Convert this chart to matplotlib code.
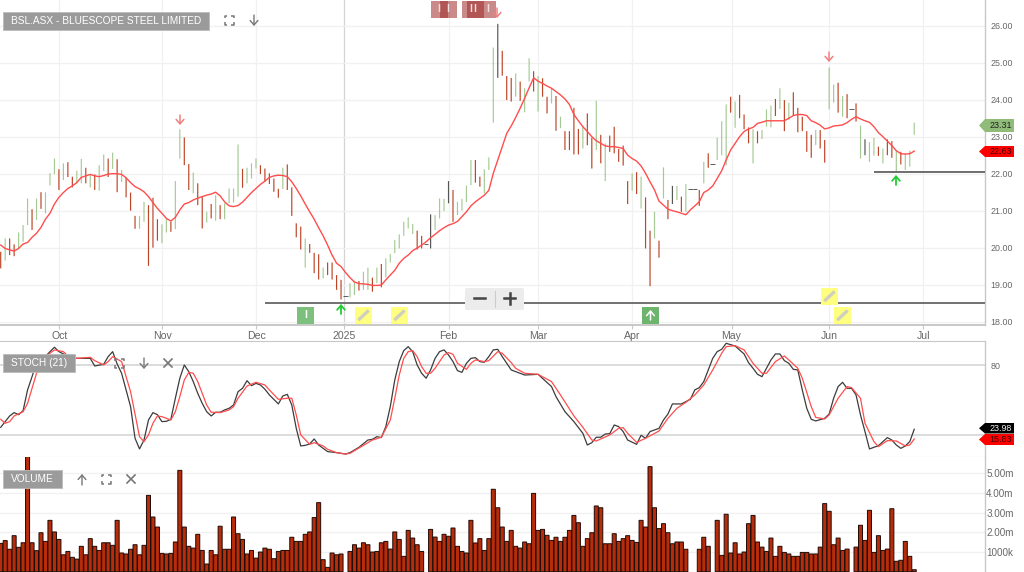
import numpy as np
import matplotlib
matplotlib.use("Agg")
import matplotlib.pyplot as plt
from matplotlib.patches import Rectangle, FancyBboxPatch, Polygon

plt.rcParams['font.family'] = ['Liberation Sans', 'DejaVu Sans']

nan = float('nan')

# ============================================================
# DATA (one entry per trading slot)
# ============================================================
bar_high = [19.89,20.25,20.25,20.09,20.41,20.61,21.33,21.04,21.33,21.50,
            21.50,22.01,22.41,22.12,22.28,22.31,21.92,22.08,22.40,22.16,
            21.98,21.98,22.23,22.52,22.41,22.57,22.39,22.10,21.89,21.49,
            20.86,20.86,21.24,21.15,21.35,20.77,20.63,20.77,20.70,21.80,
            23.20,22.98,22.26,22.03,21.74,21.38,20.97,21.18,21.42,21.15,
            21.20,21.60,21.60,22.79,22.13,22.16,22.28,22.41,22.23,22.14,
            22.01,21.87,21.59,22.16,22.25,21.63,20.66,20.57,20.25,20.10,
            19.86,19.82,19.46,19.60,19.60,19.26,19.13,18.69,19.04,19.11,
            19.10,19.35,19.46,19.19,19.46,19.56,19.71,19.83,20.21,20.36,
            20.70,20.82,20.64,20.46,20.32,20.09,20.90,20.88,21.33,21.32,
            21.80,21.56,21.24,21.32,21.68,22.37,22.37,21.92,22.12,22.44,
            25.41,26.05,25.32,24.64,24.59,24.71,24.49,24.31,25.12,24.77,
            24.64,24.58,24.08,24.31,24.10,23.54,23.15,23.15,23.78,23.21,
            23.27,23.63,22.97,23.97,23.05,22.82,23.03,23.27,22.67,22.76,
            21.80,22.01,22.04,21.92,21.36,20.46,20.97,20.19,22.17,21.29,
            21.67,21.67,21.38,21.72,21.59,21.59,21.56,22.32,22.55,22.26,
            22.97,23.42,23.87,24.08,23.95,24.13,23.60,23.25,23.20,23.15,
            23.18,23.74,23.84,24.02,24.31,23.99,23.92,24.20,23.78,23.54,
            23.15,23.05,23.18,23.18,22.91,24.87,24.41,24.46,24.10,24.15,
            23.76,23.90,23.30,22.93,22.85,22.97,22.73,22.68,22.93,22.88,
            22.64,22.59,22.55,22.62,23.38]
bar_low = [19.44,19.65,19.80,19.77,19.95,20.16,20.61,20.48,20.75,21.05,
           20.93,21.68,21.99,21.56,21.83,21.91,21.63,21.74,21.74,21.74,
           21.63,21.56,21.54,22.07,21.91,22.13,21.50,21.78,21.36,21.00,
           20.51,20.51,20.70,19.51,20.00,20.19,20.12,20.41,20.43,20.50,
           22.41,22.23,21.56,21.47,21.15,20.52,20.68,20.79,20.73,20.77,
           20.77,21.20,21.22,21.38,21.62,21.74,21.87,22.14,21.99,21.78,
           21.72,21.51,21.35,21.59,21.56,20.86,20.28,19.95,19.46,19.86,
           19.31,19.14,19.17,19.26,19.14,18.86,18.60,18.69,18.65,18.72,
           18.84,18.86,18.86,18.81,19.04,18.93,19.20,19.60,19.85,19.98,
           20.32,20.52,20.37,19.95,19.98,20.09,19.98,20.48,20.79,20.99,
           21.20,20.70,20.88,21.00,21.23,21.69,21.76,21.65,21.47,22.10,
           23.38,24.59,24.65,23.99,23.95,24.08,23.97,23.66,24.49,24.22,
           23.68,24.08,23.63,23.90,23.16,23.23,22.64,22.64,22.52,22.52,
           22.68,22.77,22.14,22.64,22.28,21.80,22.59,22.55,22.32,22.22,
           21.18,21.54,21.45,21.06,19.98,18.96,20.25,19.73,21.33,20.77,
           21.18,21.29,20.97,20.97,21.59,21.59,21.13,21.74,22.16,22.26,
           22.37,22.50,22.23,23.65,23.24,23.50,23.20,22.82,22.28,22.82,
           22.94,23.27,23.25,23.56,23.75,23.15,23.45,23.56,23.12,23.15,
           22.59,22.43,22.77,22.68,22.30,23.74,23.92,23.65,23.54,23.50,
           23.76,23.41,22.41,22.50,22.32,22.49,22.48,22.28,22.50,22.43,
           22.07,22.25,22.10,22.19,23.05]
# g = up, r = down, k = unchanged
bar_dir = ("rgrrgggrgr" "gggrgrrggr" "grggrgrgrr" "rggrrrggrg"
           "grrgrrgrgr" "ggggrgggrr" "rrrgrrrrgr" "rrgrrrrkgg"
           "rggrgrgggg" "gggrrrkggg" "krggggrrgg" "gkrrrgrggr"
           "grrgrgrrrr" "grrgrgrrrr" "rgrgrrgrgr" "kgrggkrgrk"
           "gggrgrrrgr" "gggrgrgrrr" "rrgrrggrgr" "krgkggrgrr"
           "grggg")
ma_line = [20.07,19.98,19.94,19.91,19.98,20.10,20.14,20.28,20.39,20.55,
           20.77,20.93,21.18,21.36,21.49,21.60,21.67,21.76,21.90,21.94,
           21.98,21.94,21.92,21.95,21.99,22.00,22.00,21.98,21.89,21.76,
           21.65,21.59,21.51,21.38,21.22,21.06,20.93,20.79,20.72,20.82,
           21.02,21.18,21.22,21.29,21.34,21.38,21.42,21.45,21.50,21.40,
           21.24,21.13,21.11,21.14,21.23,21.36,21.49,21.60,21.71,21.80,
           21.90,21.94,21.96,21.95,21.92,21.78,21.60,21.40,21.18,20.97,
           20.77,20.54,20.32,20.07,19.80,19.58,19.49,19.33,19.19,19.07,
           19.03,19.02,19.01,18.98,18.98,18.99,19.13,19.26,19.39,19.58,
           19.71,19.80,19.92,19.99,20.07,20.16,20.27,20.36,20.46,20.54,
           20.61,20.65,20.71,20.84,20.97,21.13,21.24,21.33,21.42,21.55,
           22.01,22.37,22.73,23.09,23.29,23.52,23.77,24.04,24.32,24.59,
           24.50,24.44,24.37,24.31,24.22,24.13,24.02,23.87,23.60,23.43,
           23.27,23.14,23.00,22.89,22.82,22.75,22.73,22.73,22.71,22.68,
           22.50,22.41,22.34,22.21,22.01,21.78,21.56,21.26,21.15,21.04,
           21.00,20.97,20.93,20.89,21.02,21.13,21.24,21.49,21.56,21.67,
           21.87,22.08,22.37,22.64,22.82,23.00,23.14,23.21,23.25,23.36,
           23.39,23.43,23.43,23.43,23.43,23.43,23.50,23.57,23.60,23.60,
           23.57,23.43,23.38,23.31,23.21,23.24,23.29,23.30,23.32,23.38,
           23.47,23.54,23.48,23.43,23.39,23.27,23.11,23.00,22.88,22.76,
           22.62,22.54,22.53,22.54,22.61]

stoch_k_slot = [0,1,2,3,4,5,6,7,8,9,11,12,13,14,15,17,20,21,23,24,25,26,27,28,29,30,31,32,33,34,
                35,36,37,38,39,40,41,42,43,44,45,46,47,48,49,50,51,52,53,54,55,56,57,58,59,60,62,63,64,65,
                66,67,68,69,70,71,73,75,77,78,80,82,83,84,85,86,87,88,89,90,91,92,93,94,95,96,97,98,99,100,
                101,102,103,104,105,106,107,108,109,110,111,112,113,114,115,117,120,123,124,126,128,130,131,132,
                133,134,135,136,137,138,139,140,142,143,144,145,147,148,149,150,152,154,155,156,157,158,159,160,
                161,162,164,166,167,168,169,170,171,172,173,174,175,176,177,178,179,180,181,182,184,185,186,187,
                188,189,190,191,192,193,194,196,197,198,199,200,201,202,203,204]
stoch_k = [26.4,31.3,36.2,39.1,37.3,40.8,58.7,70.2,82.3,84.0,91.8,95.6,91.8,89.8,88.1,86.0,86.0,79.4,80.9,87.5,91.8,81.2,73.1,58.7,44.3,16.9,7.7,15.4,32.7,39.1,
           37.3,31.3,31.6,33.3,51.5,68.8,80.3,74.5,65.9,55.8,47.1,39.9,36.2,39.4,39.4,41.4,42.8,45.7,57.2,60.1,66.7,62.4,64.4,63.0,59.3,54.4,46.6,53.5,54.9,45.7,
           25.5,10.3,10.8,12.0,16.3,11.1,5.4,4.5,3.3,4.5,9.1,15.4,16.0,18.3,17.5,27.0,44.3,67.3,83.2,92.7,96.1,91.8,80.3,73.1,68.8,76.0,86.0,91.8,93.3,88.9,
           83.2,75.4,73.9,81.7,86.0,86.6,83.2,82.6,87.5,93.3,93.8,87.5,81.7,76.0,74.5,71.6,72.2,61.6,52.9,39.9,31.3,21.2,11.1,13.1,
           17.8,17.8,20.6,20.9,28.4,27.0,22.7,15.4,11.7,19.5,16.9,22.7,25.5,32.7,37.9,46.6,46.6,50.6,58.7,60.7,65.9,76.0,86.0,91.8,
           93.8,99.0,96.7,89.8,82.3,77.4,72.2,70.2,77.4,84.6,89.8,89.8,84.0,81.7,76.5,76.0,58.7,42.8,33.3,31.9,34.2,37.9,51.5,61.6,
           65.3,60.1,60.1,54.4,37.1,22.7,7.7,10.5,14.0,17.5,15.4,11.1,8.2,10.3,14.0,24.7]
stoch_d_slot = [0,1,2,3,5,6,8,9,11,12,14,15,17,20,21,23,24,25,27,29,31,32,33,34,35,36,38,39,40,41,
                42,43,44,46,47,49,51,52,53,55,57,59,60,62,64,65,66,67,69,70,72,73,75,77,78,81,83,85,87,88,
                89,90,91,92,93,94,95,96,97,99,100,101,102,104,105,106,108,109,111,112,114,115,117,120,123,125,128,130,132,133,
                136,138,139,140,142,144,147,149,151,153,155,157,159,161,162,164,166,168,170,171,173,175,176,178,179,181,182,184,185,187,
                189,190,192,193,195,196,198,200,202,203,204]
stoch_d = [33.3,29.9,31.3,36.2,39.9,47.1,73.1,84.6,90.4,93.3,91.8,88.1,86.0,86.9,84.0,80.3,83.2,87.5,83.2,57.2,18.3,14.0,19.8,29.9,36.2,35.6,32.7,39.9,52.9,67.3,
           73.9,73.1,65.9,45.7,39.4,39.1,41.4,44.3,51.5,62.1,65.3,63.0,58.7,50.6,51.5,51.5,37.1,19.8,11.7,13.1,10.3,7.4,4.5,3.3,3.9,10.8,15.4,17.8,32.7,51.5,
           71.6,86.0,91.8,92.7,87.5,78.8,73.1,73.1,77.4,88.9,91.0,89.5,81.7,76.5,81.7,84.6,83.2,84.0,91.8,90.4,82.3,77.4,73.1,72.2,65.9,54.4,36.2,26.4,15.4,14.6,
           19.8,25.5,26.1,21.2,13.4,16.9,23.2,34.2,42.8,48.0,54.4,63.0,76.0,90.4,96.1,97.0,93.3,81.7,73.1,73.1,83.2,88.1,84.6,77.4,68.8,44.3,35.0,33.6,37.1,51.5,
           61.6,60.7,51.5,29.9,14.0,9.7,14.9,14.6,10.3,11.1,16.3]

# millions, nan = no trading that day
volume_m = [1.44,1.58,1.14,1.83,1.24,1.47,6.00,1.47,1.07,1.98,
            1.54,2.61,2.02,1.64,0.86,1.03,0.73,0.64,1.29,0.86,
            1.68,1.29,1.08,1.47,1.47,1.34,2.61,0.95,0.90,1.14,
            1.37,0.86,1.34,3.88,2.78,2.27,0.93,0.90,0.93,1.51,
            5.15,2.27,1.29,1.20,1.90,1.08,0.39,1.08,0.86,2.31,
            1.14,1.14,2.78,1.93,1.64,0.90,1.08,0.69,1.00,1.20,
            1.14,0.66,1.03,1.08,1.08,1.75,1.54,1.54,1.90,2.02,
            2.75,3.51,0.61,0.22,0.95,0.86,0.90,nan,
            1.03,1.37,1.20,1.47,1.37,1.00,1.03,1.47,1.54,1.15,
            2.02,1.64,0.78,2.10,1.71,1.37,1.03,nan,
            2.15,1.76,1.54,1.90,1.80,2.22,1.29,1.03,0.95,2.61,
            1.46,1.68,1.08,1.68,4.19,3.25,2.27,1.54,2.10,
            1.29,1.20,1.51,1.42,3.98,2.10,2.15,1.85,1.59,1.75,
            1.54,1.75,2.10,2.86,2.49,1.29,1.68,1.98,3.34,3.25,
            1.42,1.42,1.93,1.54,1.68,1.83,1.59,1.49,2.61,2.27,
            5.34,3.25,2.19,2.44,1.98,1.42,1.51,1.51,1.14,nan,nan,
            1.14,1.75,1.29,nan,
            2.61,0.83,2.92,0.95,1.47,0.90,1.00,2.44,2.86,1.51,
            1.25,1.03,1.71,0.78,1.29,0.98,0.90,0.78,0.78,0.98,
            0.98,0.90,0.90,1.25,3.46,3.07,1.37,1.71,1.08,1.15,nan,
            1.25,2.36,1.59,3.12,0.98,1.83,1.08,1.15,3.20,0.53,0.58,1.54,0.78,0.10]

month_slots = [13.1, 36.1, 57.1, 76.7, 100, 120, 141, 163.2, 185, 206]
month_labels = ['Oct', 'Nov', 'Dec', '2025', 'Feb', 'Mar', 'Apr', 'May', 'Jun', 'Jul']
price_ticks = [18, 19, 20, 21, 22, 23, 24, 25, 26]
stoch_levels = [20, 80]
volume_ticks = [1, 2, 3, 4, 5]
volume_tick_labels = ['1000k', '2.00m', '3.00m', '4.00m', '5.00m']
last_close = 23.31
last_ma = 22.63
last_k = 23.98
last_d = 15.83

# ============================================================
# COLOURS
# ============================================================
TEXT = '#666666'
GRID = '#f1f1f1'
BORDER = '#c8c8c8'
UP = '#6aa84f'
DOWN = '#b5300f'
RED = '#ff4d4d'
BOX = '#9b9b9b'
ICON = '#777777'

W, H = 1024, 572
fig = plt.figure(figsize=(W / 100, H / 100), dpi=100)


def pane(top, bottom):
    return fig.add_axes([0, 1 - bottom / H, 985 / W, (bottom - top) / H])


ax_p = pane(0, 325)
ax_s = pane(341, 457)
ax_v = pane(457, 572)

slots = np.arange(len(bar_high))
xlim = (-0.156, 219.8)

for ax in (ax_p, ax_s, ax_v):
    ax.set_xlim(*xlim)
    ax.yaxis.tick_right()
    for name in ('top', 'left', 'bottom'):
        ax.spines[name].set_visible(False)
    ax.spines['right'].set_color(BORDER)
    ax.spines['right'].set_linewidth(1.0)
    ax.tick_params(axis='y', length=0, pad=4, labelsize=6.4, labelcolor=TEXT)
    ax.set_axisbelow(True)

# ============================================================
# PRICE PANE
# ============================================================
ax_p.set_ylim(17.91, 26.695)
ax_p.set_yticks(price_ticks)
ax_p.set_yticklabels([f'{v:.2f}' for v in price_ticks])
ax_p.grid(axis='y', color=GRID, lw=1.0)
for s, lab in zip(month_slots, month_labels):
    ax_p.axvline(s, color='#d4d4d4' if lab == '2025' else GRID, lw=0.9, zorder=0)
ax_p.set_xticks(month_slots)
ax_p.set_xticklabels(month_labels)
ax_p.tick_params(axis='x', length=3, color=BORDER, labelsize=7.6, labelcolor=TEXT, pad=1.5)
ax_p.spines['bottom'].set_visible(True)
ax_p.spines['bottom'].set_color(BORDER)
ax_p.spines['bottom'].set_linewidth(1.4)

colour_of = {'g': UP, 'r': DOWN, 'k': '#444444'}
for i in slots:
    if bar_high[i] == bar_low[i]:
        ax_p.hlines(bar_high[i], i - 0.5, i + 0.5, color='#444444', lw=0.6)
    else:
        line = ax_p.vlines(i, bar_low[i], bar_high[i], color=colour_of[bar_dir[i]], lw=0.85,
                           alpha=0.6 if bar_dir[i] == 'g' else 0.9)
        line.set_snap(False)

ax_p.plot(slots, ma_line, color=RED, lw=1.0, zorder=4)

ax_p.hlines(18.5, 59, xlim[1], color='#666666', lw=1.3, zorder=3)
ax_p.hlines(22.05, 195, xlim[1], color='#555555', lw=1.2, zorder=3)

# ============================================================
# STOCHASTIC PANE
# ============================================================
ax_s.set_ylim(0.73, 101)
ax_s.set_yticks(stoch_levels)
ax_s.set_yticklabels(['', '80'])
ax_s.grid(axis='y', color='#d2d2d2', lw=1.1)
ax_s.spines['top'].set_visible(True)
ax_s.spines['top'].set_color(BORDER)
ax_s.spines['bottom'].set_visible(True)
ax_s.spines['bottom'].set_color(BORDER)
ax_s.set_xticks([])
ax_s.plot(stoch_k_slot, stoch_k, color='#3c3c3c', lw=0.9, zorder=3)
ax_s.plot(stoch_d_slot, stoch_d, color=RED, lw=0.9, zorder=4)

# ============================================================
# VOLUME PANE
# ============================================================
ax_v.set_ylim(-0.016, 5.83)
ax_v.set_yticks(volume_ticks)
ax_v.set_yticklabels(volume_tick_labels)
ax_v.tick_params(axis='y', pad=0.8, labelsize=7.1)
ax_v.grid(axis='y', color=GRID, lw=1.0)
ax_v.set_xticks([])
vol_bars = ax_v.bar(slots, volume_m, width=0.9, color='#b72c0b', edgecolor='#1c0a04', linewidth=0.7)
for b in vol_bars:
    b.set_snap(False)

# ============================================================
# OVERLAY: labels, icons, tags (pixel coordinates)
# ============================================================
ov = fig.add_axes([0, 0, 1, 1], facecolor='none')
ov.set_xlim(0, W)
ov.set_ylim(H, 0)
ov.axis('off')


def label_box(x0, y0, x1, y1, text):
    ov.add_patch(Rectangle((x0, y0), x1 - x0, y1 - y0, fc=BOX, ec='#bbbbbb', lw=0.6, zorder=6))
    ov.text((x0 + x1) / 2, (y0 + y1) / 2 + 0.3, text, color='white', fontsize=7.25,
            ha='center', va='center', zorder=7)


def expand_icon(cx, cy, c=ICON):
    r, k = 4.5, 2.2
    for sx in (-1, 1):
        for sy in (-1, 1):
            ov.plot([cx + sx * r, cx + sx * r, cx + sx * (r - k)],
                    [cy + sy * (r - k), cy + sy * r, cy + sy * r],
                    color=c, lw=1.1, solid_capstyle='butt', zorder=7)


def arrow(x, y0, y1, c=ICON, lw=1.0):
    ov.annotate('', xy=(x, y1), xytext=(x, y0), zorder=7,
                arrowprops=dict(arrowstyle='->,head_width=0.28,head_length=0.32',
                                color=c, lw=lw, shrinkA=0, shrinkB=0))


def cross_icon(cx, cy, c=ICON):
    ov.plot([cx - 4, cx + 4], [cy - 4, cy + 4], color=c, lw=1.2, zorder=7)
    ov.plot([cx - 4, cx + 4], [cy + 4, cy - 4], color=c, lw=1.2, zorder=7)


label_box(3, 12, 209, 30, 'BSL.ASX - BLUESCOPE STEEL LIMITED')
expand_icon(229, 20)
arrow(254, 15, 26)

label_box(3, 354, 75, 372, 'STOCH (21)')
expand_icon(119, 363)
arrow(144, 358, 369)
cross_icon(168, 363)

label_box(3, 470, 62, 488, 'VOLUME')
arrow(82, 485, 474)
expand_icon(106, 479)
cross_icon(131, 479)

# signal arrows
for x, y in [(180, 115), (497, 8), (829, 52)]:
    arrow(x, y, y + 10, c='#f08080', lw=1.1)
for x, y in [(341, 314), (896, 185)]:
    arrow(x, y, y - 10, c='#22cc33', lw=1.3)

# news and note boxes
for x0 in (431, 440, 462, 467, 479):
    ov.add_patch(Rectangle((x0, 1), 17, 16.5, fc='#a02a2a', alpha=0.55, ec='none', zorder=6))
for x in (439, 448, 470.7, 475, 488):
    ov.text(x, 9, 'I', color='#f0dede', fontsize=7.5, fontweight='bold',
            ha='center', va='center', zorder=7)

ov.add_patch(Rectangle((297, 307), 17, 16.5, fc='#7dbf7d', ec='none', zorder=6))
ov.text(305.5, 315.5, 'I', color='white', fontsize=7.5, fontweight='bold',
        ha='center', va='center', zorder=7)
ov.add_patch(Rectangle((642, 307), 17, 16.5, fc='#6db56d', ec='none', zorder=6))
arrow(650.5, 320, 310, c='white', lw=1.1)

for x0, y0 in [(355, 307), (391, 307), (821, 288), (834, 307)]:
    ov.add_patch(Rectangle((x0, y0), 17, 16.5, fc='#ffff80', ec='none', zorder=6))
    ov.plot([x0 + 4.5, x0 + 12.5], [y0 + 12, y0 + 4.5], color='#cfcfc0', lw=2.4, zorder=7)

# zoom control
ov.add_patch(FancyBboxPatch((467, 290), 55, 18, boxstyle='round,pad=2,rounding_size=2',
                            fc='#ececec', ec='none', zorder=6))
ov.plot([474, 485], [298, 298], color='#444444', lw=1.8, zorder=7)
ov.plot([504, 515], [298, 298], color='#444444', lw=1.8, zorder=7)
ov.plot([509.5, 509.5], [292.5, 303.5], color='#444444', lw=1.8, zorder=7)
ov.plot([495, 495], [291, 307], color='#cccccc', lw=0.8, zorder=7)


# value tags on the right axis
def tag(y0, y1, fc, text, tc):
    ym = (y0 + y1) / 2
    ov.add_patch(Polygon([(979, ym), (985, y0), (1014, y0), (1014, y1), (985, y1)],
                         closed=True, fc=fc, ec='none', zorder=6))
    ov.text(1001, ym + 0.3, text, color=tc, fontsize=6.4, ha='center', va='center', zorder=7)


tag(119, 132, '#8fbc78', f'{last_close:.2f}', '#222222')
tag(146, 157, '#ff0000', f'{last_ma:.2f}', '#3a0000')
tag(423, 433.5, '#000000', f'{last_k:.2f}', '#eeeeee')
tag(434, 445, '#ff0000', f'{last_d:.2f}', '#3a0000')

fig.savefig('out.png', dpi=100, facecolor='white')
